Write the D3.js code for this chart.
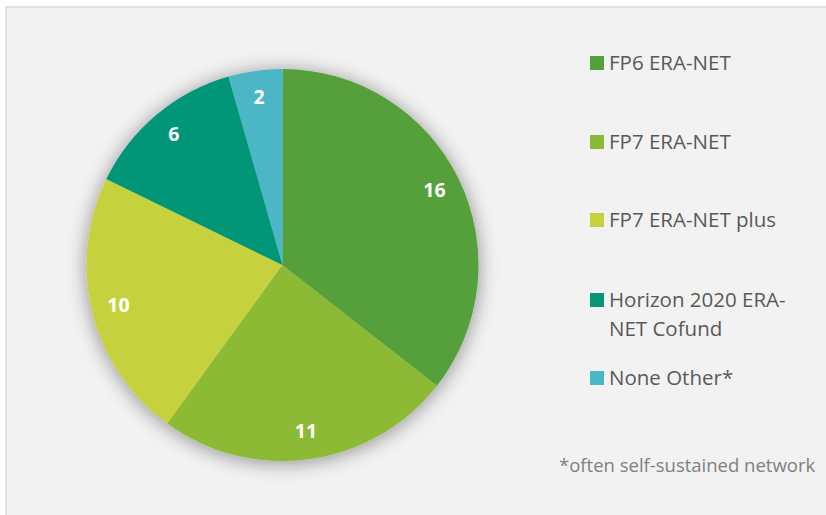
<!DOCTYPE html>
<html>
<head>
<meta charset="utf-8">
<script src="https://cdn.jsdelivr.net/npm/d3@7"></script>
<style>
  body { margin: 0; background: #fff; }
  svg { display: block; }
</style>
</head>
<body>
<div id="chart"></div>
<script>
var categories = ["FP6 ERA-NET", "FP7 ERA-NET", "FP7 ERA-NET plus", "Horizon 2020 ERA-NET Cofund", "None Other*"];
var legendLines = [["FP6 ERA-NET"], ["FP7 ERA-NET"], ["FP7 ERA-NET plus"], ["Horizon 2020 ERA-", "NET Cofund"], ["None Other*"]];
var values = [16, 11, 10, 6, 2];
var colors = ["#54a03a", "#8cba36", "#c5d23c", "#069677", "#4bb6c6"];
var footnote = "*often self-sustained network";

var width = 826, height = 515;
var cx = 282.5, cy = 265, radius = 196;

var svg = d3.select("#chart").append("svg")
  .attr("width", width)
  .attr("height", height);

// chart area frame (cut off at right and bottom)
svg.append("rect")
  .attr("x", 6).attr("y", 7)
  .attr("width", width + 10).attr("height", height + 10)
  .style("fill", "#f2f2f2")
  .style("stroke", "#d9d9d9")
  .style("stroke-width", 1.5);

var defs = svg.append("defs");
var filter = defs.append("filter")
  .attr("id", "shadow")
  .attr("x", "-30%").attr("y", "-30%")
  .attr("width", "160%").attr("height", "160%");
filter.append("feGaussianBlur").attr("in", "SourceAlpha").attr("stdDeviation", 10).attr("result", "blur");
filter.append("feOffset").attr("in", "blur").attr("dx", 0).attr("dy", 2).attr("result", "off");
filter.append("feComponentTransfer").attr("in", "off").attr("result", "soft")
  .append("feFuncA").attr("type", "linear").attr("slope", 0.42);
var merge = filter.append("feMerge");
merge.append("feMergeNode").attr("in", "soft");
merge.append("feMergeNode").attr("in", "SourceGraphic");

var color = d3.scaleOrdinal().domain(categories).range(colors);

var pie = d3.pie().sort(null).value(d => d.value);
var data = categories.map((c, i) => ({key: c, value: values[i]}));
var arcs = pie(data);

var arc = d3.arc().innerRadius(0).outerRadius(radius);
var labelArc = d3.arc().innerRadius(169).outerRadius(169);

var g = svg.append("g")
  .attr("transform", "translate(" + cx + "," + cy + ")");

g.append("g")
  .attr("filter", "url(#shadow)")
  .selectAll("path")
  .data(arcs)
  .enter().append("path")
  .attr("d", arc)
  .style("fill", d => color(d.data.key));

g.selectAll(".lbl")
  .data(arcs)
  .enter().append("text")
  .attr("class", "lbl")
  .attr("transform", d => "translate(" + labelArc.centroid(d) + ")")
  .attr("text-anchor", "middle")
  .attr("dy", "0.3em")
  .style("font-family", "'Open Sans', sans-serif")
  .style("font-weight", "bold")
  .style("font-size", "19.5px")
  .style("fill", "#fff")
  .text(d => d.data.value);

// legend
var legendY = [63, 142, 220, 300, 378];
var legend = svg.append("g");
categories.forEach(function(c, i) {
  var row = legend.append("g").attr("transform", "translate(590," + legendY[i] + ")");
  row.append("rect")
    .attr("x", 0).attr("y", -7)
    .attr("width", 14).attr("height", 14)
    .style("fill", color(c));
  legendLines[i].forEach(function(line, j) {
    row.append("text")
      .attr("x", 19).attr("y", j * 29)
      .attr("dy", "0.36em")
      .style("font-family", "'Open Sans', sans-serif")
      .style("font-size", "20.5px")
      .style("fill", "#595959")
      .text(line);
  });
});

svg.append("text")
  .attr("x", 559).attr("y", 465)
  .attr("dy", "0.36em")
  .style("font-family", "'Open Sans', sans-serif")
  .style("font-size", "18.5px")
  .style("fill", "#808080")
  .text(footnote);
</script>
</body>
</html>
